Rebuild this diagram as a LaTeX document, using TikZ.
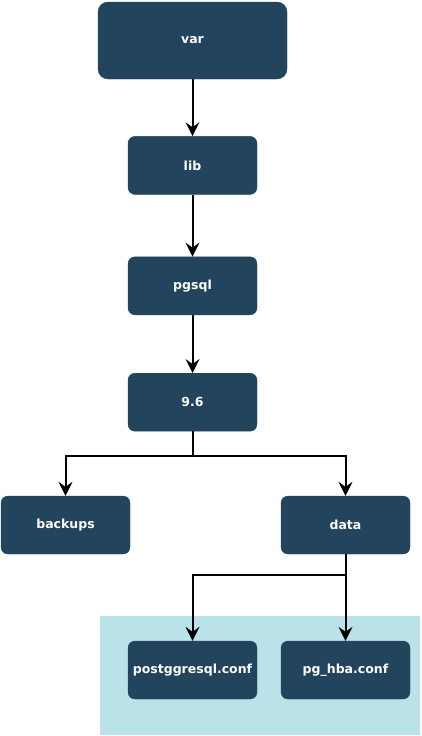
\documentclass[tikz,border=0pt]{standalone}
\usepackage{fontspec}
\setmainfont{DejaVu Sans}
\usetikzlibrary{arrows.meta, positioning, backgrounds}
\definecolor{dirblue}{HTML}{23445D}
\definecolor{confbg}{HTML}{B9E3E8}
\tikzset{
    dirbox/.style={rectangle, draw=dirblue, fill=dirblue, text=white, rounded corners=7pt, minimum width=129pt, minimum height=58pt, font=\bfseries\fontsize{12.5}{14}\selectfont},
    rootbox/.style={dirbox, minimum width=189pt, minimum height=77pt, rounded corners=10pt},
    arrow/.style={-{Stealth[length=14pt, width=14pt, inset=5pt, line width=0pt]}, line width=2pt},
}

\begin{document}
\begin{tikzpicture}[x=1pt, y=1pt]
    \useasboundingbox (0,0) rectangle (421,-736);

    % Directory chain
    \node[rootbox] (var) at (192.5,-40.5) {var};
    \node[dirbox, below=57pt of var] (lib) {lib};
    \node[dirbox, below=62pt of lib] (pgsql) {pgsql};
    \node[dirbox, below=58pt of pgsql] (ver) {9.6};

    % Children of 9.6
    \node[dirbox] (backups) at (65.5,-525) {backups};
    \node[dirbox] (data) at (345.5,-525) {data};

    % Config files
    \node[dirbox] (pgconf) at (192.5,-670) {postggresql.conf};
    \node[dirbox] (hbaconf) at (345.5,-670) {pg\_hba.conf};

    % Highlight area
    \begin{scope}[on background layer]
        \fill[confbg] (100,-616) rectangle (420,-735);
    \end{scope}

    % Arrows
    \draw[arrow] (var) -- (lib);
    \draw[arrow] (lib) -- (pgsql);
    \draw[arrow] (pgsql) -- (ver);
    \draw[arrow] (ver.south) -- ++(0,-25) -| (backups.north);
    \draw[arrow] (ver.south) -- ++(0,-25) -| (data.north);
    \draw[arrow] (data.south) -- ++(0,-21) -| (pgconf.north);
    \draw[arrow] (data) -- (hbaconf);

\end{tikzpicture}
\end{document}
